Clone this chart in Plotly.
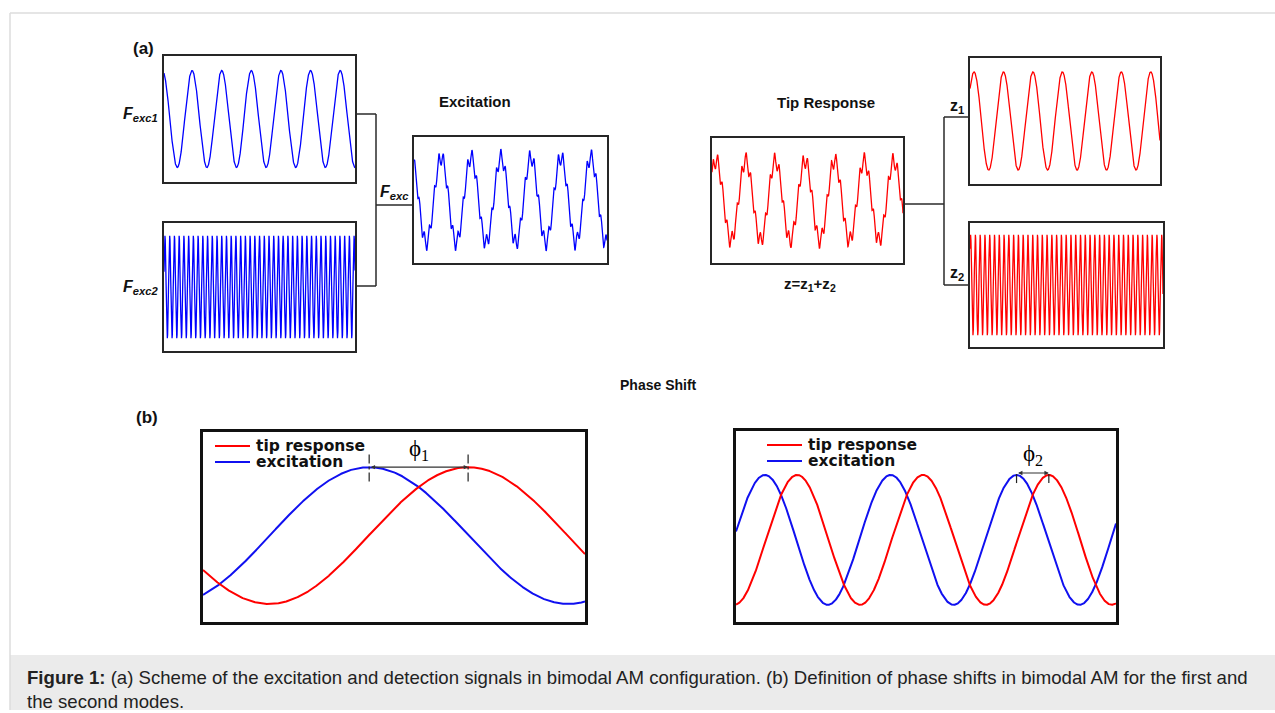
import numpy as np
import plotly.graph_objects as go

W, H = 1275, 713

# ---------------- data ----------------
# Panel (a): each box shows a sum of a first-mode and a second-mode cosine.
A_NAMES = ["F_exc1", "F_exc2", "F_exc", "z", "z1", "z2"]
A_MODE1_AMP = [0.77, 0.00, 0.68, 0.64, 0.78, 0.00]   # fraction of box half-height
A_MODE2_AMP = [0.00, 0.80, 0.13, 0.13, 0.00, 0.81]
A_MODE1_PEAK = [0.147, 0.0, 0.140, 0.021, 0.021, 0.0]  # first crest, fraction of box width
A_MODE2_PEAK = [0.0, 0.005, 0.004, 0.030, 0.0, 0.003]
A_COLORS = ["#0000ff", "#0000ff", "#0000ff", "#ff0000", "#ff0000", "#ff0000"]
MODE1_CYCLES = 6.45    # cycles shown across one box
MODE2_CYCLES = 40.4

# Panel (b): excitation vs. tip response for each mode
B_CYCLES = [0.96, 3.02]
B_AMP = [0.72, 0.68]
B_OFFSET = [-0.09, -0.14]
B_EXC_PEAK = [0.435, 0.076]
B_TIP_PEAK = [0.694, 0.161]
B_MARK_CYCLE = [0, 2]
B_PHI_LABELS = ["\u03d5<sub>1</sub>", "\u03d5<sub>2</sub>"]
LEGEND_LABELS = ["tip response", "excitation"]
LEGEND_COLORS = ["#ff0000", "#1010f0"]

# ---------------- layout geometry (pixels) ----------------
A_BOX_PX = [(164, 56, 355, 182), (164, 223, 355, 351), (414, 137, 607, 263),
            (712, 138, 903, 263), (970, 58, 1160, 184), (970, 223, 1163, 347)]
B_BOX_PX = [(203, 432, 585, 622), (736, 431, 1116, 622)]


def px(x):
    return x / W


def py(y):
    return 1 - y / H


def cosine(x, amp, peak, cycles):
    return amp * np.cos(2 * np.pi * cycles * (x - peak))


fig = go.Figure()
layout = dict(width=W, height=H, margin=dict(l=0, r=0, t=0, b=0),
              paper_bgcolor="white", plot_bgcolor="white", showlegend=False)
shapes, annotations = [], []


def add_axes(i, box, lw, lc):
    l, t, r, b = box
    sx = "" if i == 1 else str(i)
    common = dict(showline=True, mirror=True, linewidth=lw, linecolor=lc,
                  showgrid=False, zeroline=False, showticklabels=False, ticks="",
                  fixedrange=True)
    layout["xaxis" + sx] = dict(domain=[px(l), px(r)], range=[0, 1],
                                anchor="y" + sx, **common)
    layout["yaxis" + sx] = dict(domain=[py(b), py(t)], range=[-1, 1],
                                anchor="x" + sx, **common)
    return "x" + sx, "y" + sx


# panel (a) boxes and signals
xs = np.linspace(0, 1, 5000)
for k, box in enumerate(A_BOX_PX):
    xr, yr = add_axes(k + 1, box, 1.5, "#262626")
    ys = (cosine(xs, A_MODE1_AMP[k], A_MODE1_PEAK[k], MODE1_CYCLES)
          + cosine(xs, A_MODE2_AMP[k], A_MODE2_PEAK[k], MODE2_CYCLES))
    fig.add_trace(go.Scatter(x=xs, y=ys, mode="lines", xaxis=xr, yaxis=yr,
                             line=dict(color=A_COLORS[k], width=1.3),
                             hoverinfo="skip"))

# panel (b) boxes, curves and phase markers
for j, box in enumerate(B_BOX_PX):
    xr, yr = add_axes(7 + j, box, 2.5, "#111111")
    exc = B_OFFSET[j] + cosine(xs, B_AMP[j], B_EXC_PEAK[j], B_CYCLES[j])
    tip = B_OFFSET[j] + cosine(xs, B_AMP[j], B_TIP_PEAK[j], B_CYCLES[j])
    fig.add_trace(go.Scatter(x=xs, y=exc, mode="lines", xaxis=xr, yaxis=yr,
                             line=dict(color=LEGEND_COLORS[1], width=2),
                             hoverinfo="skip"))
    fig.add_trace(go.Scatter(x=xs, y=tip, mode="lines", xaxis=xr, yaxis=yr,
                             line=dict(color=LEGEND_COLORS[0], width=2),
                             hoverinfo="skip"))

    shift = B_MARK_CYCLE[j] / B_CYCLES[j]
    x_exc = B_EXC_PEAK[j] + shift
    x_tip = B_TIP_PEAK[j] + shift
    y_top = B_OFFSET[j] + B_AMP[j]
    half = 0.15 if j == 0 else 0.085
    dash = "dashdot" if j == 0 else "dash"
    for xv in (x_exc, x_tip):
        shapes.append(dict(type="line", xref=xr, yref=yr, x0=xv, x1=xv,
                           y0=y_top - half, y1=y_top + half,
                           line=dict(color="#222222", width=1.2, dash=dash)))
    y_arrow = y_top if j == 0 else y_top + 0.02
    annotations.append(dict(x=x_tip, y=y_arrow, ax=x_exc, ay=y_arrow,
                            xref=xr, yref=yr, axref=xr, ayref=yr, text="",
                            showarrow=True, arrowhead=2, arrowside="end+start",
                            arrowsize=0.8, arrowwidth=1.1, arrowcolor="#333333",
                            standoff=0, startstandoff=0))
    annotations.append(dict(x=(x_exc + x_tip) / 2, y=y_top + (0.18 if j == 0 else 0.21),
                            xref=xr, yref=yr, text=B_PHI_LABELS[j], showarrow=False,
                            font=dict(family="Liberation Serif", size=23, color="black"),
                            xanchor="center", yanchor="middle"))

    # legend inside the box
    l, t, r, b = box
    lx0 = l + (12 if j == 0 else 31)
    for n, (lab, col) in enumerate(zip(LEGEND_LABELS, LEGEND_COLORS)):
        yy = t + 14 + 16 * n
        shapes.append(dict(type="line", xref="paper", yref="paper",
                           x0=px(lx0), x1=px(lx0 + 35), y0=py(yy), y1=py(yy),
                           line=dict(color=col, width=2)))
        annotations.append(dict(x=px(lx0 + 39), y=py(yy), xref="paper", yref="paper",
                                text="<b>" + lab + "</b>", showarrow=False,
                                xanchor="left", yanchor="middle",
                                font=dict(family="DejaVu Sans", size=15.5, color="#111")))

# connector lines of panel (a)
CONN = "#2a2a2a"
seg_px = [
    (355, 114, 376, 114), (376, 114, 376, 286), (355, 286, 376, 286), (376, 205, 414, 205),
    (903, 204, 944, 204), (944, 117, 944, 285), (944, 117, 970, 117), (944, 285, 970, 285),
]
for x0, y0, x1, y1 in seg_px:
    shapes.append(dict(type="line", xref="paper", yref="paper",
                       x0=px(x0), y0=py(y0), x1=px(x1), y1=py(y1),
                       line=dict(color=CONN, width=1.5)))

# outer frame and caption panel
shapes.append(dict(type="rect", xref="paper", yref="paper", layer="below",
                   x0=px(10), x1=px(1276), y0=py(710), y1=py(655),
                   fillcolor="#ebebeb", line=dict(width=0)))
shapes.append(dict(type="line", xref="paper", yref="paper",
                   x0=px(10), x1=px(1276), y0=py(13), y1=py(13),
                   line=dict(color="#dddddd", width=1.5)))
shapes.append(dict(type="line", xref="paper", yref="paper",
                   x0=px(10), x1=px(10), y0=py(13), y1=py(710),
                   line=dict(color="#dddddd", width=1.5)))


def label(x, y, text, size=15, family="Liberation Sans", anchor="center", color="#111"):
    annotations.append(dict(x=px(x), y=py(y), xref="paper", yref="paper", text=text,
                            showarrow=False, xanchor=anchor, yanchor="middle",
                            font=dict(family=family, size=size, color=color)))


label(143, 48, "<b>(a)</b>", size=17)
label(147, 417, "<b>(b)</b>", size=17)
label(475, 101, "<b>Excitation</b>", size=15)
label(826, 103, "<b>Tip Response</b>", size=15)
label(658, 385, "<b>Phase Shift</b>", size=14)
label(810, 284, "<b>z=z<sub>1</sub>+z<sub>2</sub></b>", size=15)
label(140, 114, "<b><i>F<sub>exc1</sub></i></b>", size=16)
label(140, 287, "<b><i>F<sub>exc2</sub></i></b>", size=16)
label(394, 192, "<b><i>F<sub>exc</sub></i></b>", size=16)
label(957, 106, "<b>z<sub>1</sub></b>", size=16)
label(957, 273, "<b>z<sub>2</sub></b>", size=16)

label(25, 677, "<b>Figure 1:</b> (a) Scheme of the excitation and detection signals in bimodal "
      "AM configuration. (b) Definition of phase shifts in bimodal AM for the first and",
      size=18.6, anchor="left", color="#222")
label(25, 701, "the second modes.", size=18.6, anchor="left", color="#222")

layout["shapes"] = shapes
layout["annotations"] = annotations
fig.update_layout(**layout)
fig.write_html("out.html")
